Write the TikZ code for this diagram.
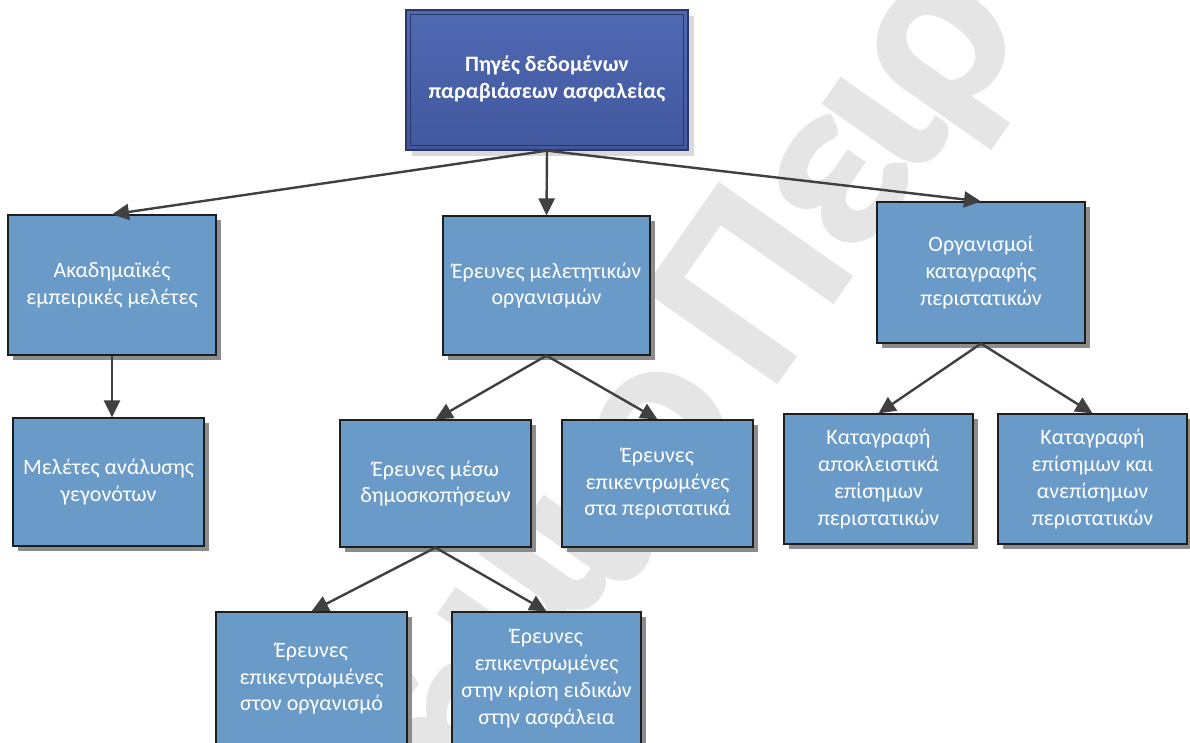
\documentclass[tikz,border=0pt]{standalone}
\usepackage{fontspec}
\setmainfont{Carlito}
\newfontfamily\markfont[FakeBold=0.8]{Carlito Bold}
\usetikzlibrary{arrows.meta,shadows,calc}
\definecolor{cardfill}{HTML}{6A9BC8}
\definecolor{cardline}{HTML}{1E1E1E}
\definecolor{headtop}{HTML}{4F69B3}
\definecolor{headbot}{HTML}{42589E}
\definecolor{headline}{HTML}{2A3768}
\definecolor{wire}{HTML}{404040}
\definecolor{mark}{HTML}{E5E5E5}
\tikzset{
  card/.style={draw=cardline, line width=1.2pt, fill=cardfill, text=white,
    align=center, inner sep=0pt,
    font=\fontsize{22}{26.8}\selectfont,
    drop shadow={shadow xshift=5pt, shadow yshift=-5pt, fill=black!45, opacity=1}},
  headcard/.style={draw=headline, line width=1.3pt, top color=headtop, bottom color=headbot,
    text=white, align=center, inner sep=0pt,
    font=\fontsize{22}{27}\selectfont\bfseries,
    drop shadow={shadow xshift=6pt, shadow yshift=-6pt, fill=black!15, opacity=1}},
  conn/.style={draw=wire, line width=2.4pt, -{Triangle[length=17pt, width=16pt]}},
  wmark/.style={text=mark, inner sep=0pt, rotate=55, anchor=center,
    font=\fontsize{250}{250}\selectfont\markfont}
}
\begin{document}
\begin{tikzpicture}[x=1pt, y=-1pt]
\useasboundingbox (0,0) rectangle (1190,742);
\fill[white] (0,0) rectangle (1190,742);

% background watermark "...ήμιο Πειρ...", one glyph per node along the diagonal
\foreach \g/\gx/\gy [count=\i] in {ή/470/722, μ/536/614, ι/588/540, ο/661/435,
    Π/748/283, ε/840/183, ι/885/122, ρ/955/58}
  \node[wmark] (wm\i) at (\gx,\gy) {\g};

% root
\node[headcard, minimum width=282pt, minimum height=140pt] (root) at (547,80)
  {\raisebox{-3pt}{\begin{tabular}{@{}c@{}}Πηγές δεδομένων\\[0pt]παραβιάσεων ασφαλείας\end{tabular}}};
\draw[headline, line width=1.1pt] ($(root.north west)+(5,5)$) rectangle ($(root.south east)+(-5,-5)$);

% first level
\node[card, minimum width=208pt, minimum height=140pt] (acad) at (112,285)
  {Ακαδημαϊκές\\εμπειρικές μελέτες};
\node[card, minimum width=207pt, minimum height=139pt] (study) at (546.5,285.5)
  {Έρευνες μελετητικών\\οργανισμών};
\node[card, minimum width=208pt, minimum height=141pt] (reg) at (981,272.5)
  {Οργανισμοί\\καταγραφής\\περιστατικών};

% second level
\node[card, minimum width=191pt, minimum height=128pt] (events) at (108.5,482)
  {Μελέτες ανάλυσης\\γεγονότων};
\node[card, minimum width=191pt, minimum height=127pt] (poll) at (435.5,483.5)
  {Έρευνες μέσω\\δημοσκοπήσεων};
\node[card, minimum width=191pt, minimum height=127pt] (incid) at (657.5,483.5)
  {Έρευνες\\επικεντρωμένες\\στα περιστατικά};
\node[card, minimum width=189pt, minimum height=130pt] (offic) at (878.5,479)
  {Καταγραφή\\αποκλειστικά\\επίσημων\\περιστατικών};
\node[card, minimum width=189pt, minimum height=130pt] (both) at (1092.5,479)
  {Καταγραφή\\επίσημων και\\ανεπίσημων\\περιστατικών};

% third level
\node[card, minimum width=191pt, minimum height=133pt] (orgf) at (311.5,678.5)
  {Έρευνες\\επικεντρωμένες\\στον οργανισμό};
\node[card, minimum width=189pt, minimum height=133pt] (expert) at (546.5,678.5)
  {Έρευνες\\επικεντρωμένες\\στην κρίση ειδικών\\στην ασφάλεια};

% connectors
\draw[conn] (root.south) -- (acad.north);
\draw[conn] (root.south) -- (study.north);
\draw[conn] (root.south) -- (reg.north);
\draw[conn] (acad.south) -- (acad.south |- events.north);
\draw[conn] (study.south) -- (poll.north);
\draw[conn] (study.south) -- (incid.north);
\draw[conn] (reg.south) -- (offic.north);
\draw[conn] (reg.south) -- (both.north);
\draw[conn] (poll.south) -- (orgf.north);
\draw[conn] (poll.south) -- (expert.north);
\end{tikzpicture}
\end{document}
